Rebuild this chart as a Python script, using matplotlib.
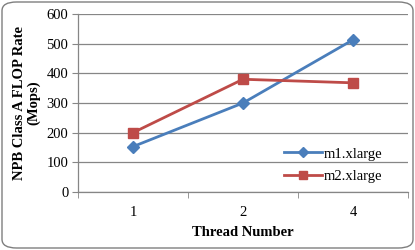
import matplotlib
matplotlib.use("Agg")
import matplotlib.pyplot as plt
from matplotlib.patches import FancyBboxPatch

categories = ["1", "2", "4"]
m1_values = [153, 300, 513]
m2_values = [200, 380, 368]
y_ticks = [0, 100, 200, 300, 400, 500, 600]

plt.rcParams['font.family'] = ['Liberation Serif', 'DejaVu Serif']

fig = plt.figure(figsize=(4.15, 2.5), dpi=100)
fig.patch.set_facecolor('white')
border = FancyBboxPatch((2/415, 2/250), 411/415, 246/250,
                        boxstyle="round,pad=0,rounding_size=0.035",
                        transform=fig.transFigure, facecolor='none',
                        edgecolor='#7f7f7f', linewidth=1.0, zorder=-1)
fig.patches.append(border)

ax = fig.add_axes([78/415, 1-192/250, 330/415, 178/250])
ax.set_facecolor('none')
x = list(range(len(categories)))
ax.plot(x, m1_values, color='#4A7EBB', linewidth=2.0, marker='D', markersize=6,
        label='m1.xlarge', zorder=3)
ax.plot(x, m2_values, color='#BE4B48', linewidth=2.0, marker='s', markersize=7.5,
        label='m2.xlarge', zorder=3)

ax.set_xlim(-0.5, len(categories) - 0.5)
ax.set_ylim(0, 600)
ax.set_yticks(y_ticks)
ax.set_xticks(x)
ax.set_xticklabels(categories)
ax.set_xticks([-0.5, 0.5, 1.5, 2.5], minor=True)
ax.tick_params(axis='x', which='major', length=0, pad=10, labelsize=10.5)
ax.tick_params(axis='x', which='minor', length=4, direction='out', color='#868686')
ax.tick_params(axis='y', length=4, direction='out', color='#868686', labelsize=10.5, pad=3)
ax.yaxis.grid(True, color='#868686', linewidth=0.9)
ax.set_axisbelow(True)
for s in ['top', 'right']:
    ax.spines[s].set_visible(False)
for s in ['left', 'bottom']:
    ax.spines[s].set_color('#868686')
    ax.spines[s].set_linewidth(0.9)

ax.set_ylabel('NPB Class A FLOP Rate\n(Mops)', fontsize=10.5, fontweight='bold', labelpad=4,
              linespacing=1.15)
ax.set_xlabel('Thread Number', fontsize=10.5, fontweight='bold', labelpad=5)

ax.legend(loc='lower right', bbox_to_anchor=(0.95, 0.0), frameon=False, fontsize=10.5,
          handlelength=2.6, handletextpad=0.15, labelspacing=0.65, borderaxespad=0.2,
          markerscale=0.8)

fig.savefig('out.png', dpi=100)
